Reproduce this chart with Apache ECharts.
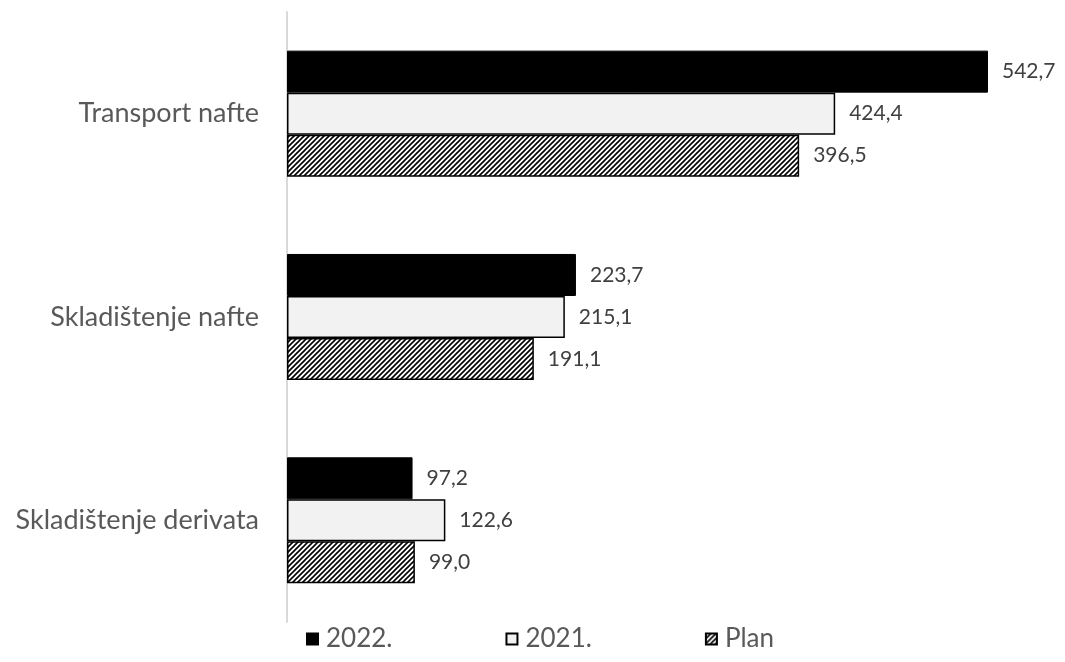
<!DOCTYPE html>
<html><head><meta charset="utf-8">
<script src="https://cdn.jsdelivr.net/npm/echarts@6/dist/echarts.min.js"></script>
<style>html,body{margin:0;padding:0;background:#fff}#c{width:1065px;height:662px}</style>
</head><body><div id="c"></div>
<script>
const categories = ['Transport nafte', 'Skladištenje nafte', 'Skladištenje derivata'];
const seriesNames = ['2022.', '2021.', 'Plan'];
const v2022 = [542.7, 223.7, 97.2];
const v2021 = [424.4, 215.1, 122.6];
const vPlan = [396.5, 191.1, 99.0];

function hatch() {
  const c = document.createElement('canvas');
  c.width = 5; c.height = 5;
  const g = c.getContext('2d');
  g.fillStyle = '#fff'; g.fillRect(0, 0, 5, 5);
  g.strokeStyle = '#000'; g.lineWidth = 1.6;
  g.beginPath();
  g.moveTo(-1, 6); g.lineTo(6, -1);
  g.moveTo(-6, 6); g.lineTo(1, -1);
  g.moveTo(4, 6); g.lineTo(11, -1);
  g.stroke();
  return c;
}
const pat = { image: hatch(), repeat: 'repeat' };
const FONT = 'Lato';
const fmt = p => p.value.toFixed(1).replace('.', ',');
const lbl = { show: true, position: 'right', distance: 14, formatter: fmt, fontSize: 21, color: '#404040', fontFamily: FONT };

const chart = echarts.init(document.getElementById('c'));
chart.setOption({
  animation: false,
  grid: { left: 287, right: 3, top: 12, bottom: 40 },
  xAxis: { type: 'value', min: 0, max: 600, show: false, splitLine: { show: false } },
  yAxis: {
    type: 'category', data: categories, inverse: true,
    axisLine: { show: true, lineStyle: { color: '#d9d9d9', width: 2 } },
    axisTick: { show: false },
    axisLabel: { fontSize: 27, color: '#595959', margin: 28, fontFamily: FONT }
  },
  legend: {
    bottom: 10, left: 306, padding: 0, itemWidth: 11, itemHeight: 11, itemGap: 113,
    textStyle: { fontSize: 26, color: '#595959', fontFamily: FONT, padding: [0, 0, 0, 3] },
    data: seriesNames.map(n => ({ name: n, icon: 'rect' }))
  },
  series: [
    { name: seriesNames[0], type: 'bar', data: v2022, barGap: '0%', barCategoryGap: '38%',
      itemStyle: { color: '#000', borderColor: '#000', borderWidth: 1 }, label: lbl },
    { name: seriesNames[1], type: 'bar', data: v2021,
      itemStyle: { color: '#f2f2f2', borderColor: '#000', borderWidth: 1.5 }, label: lbl },
    { name: seriesNames[2], type: 'bar', data: vPlan,
      itemStyle: { color: pat, borderColor: '#000', borderWidth: 1.5 }, label: lbl }
  ]
});
</script></body></html>
